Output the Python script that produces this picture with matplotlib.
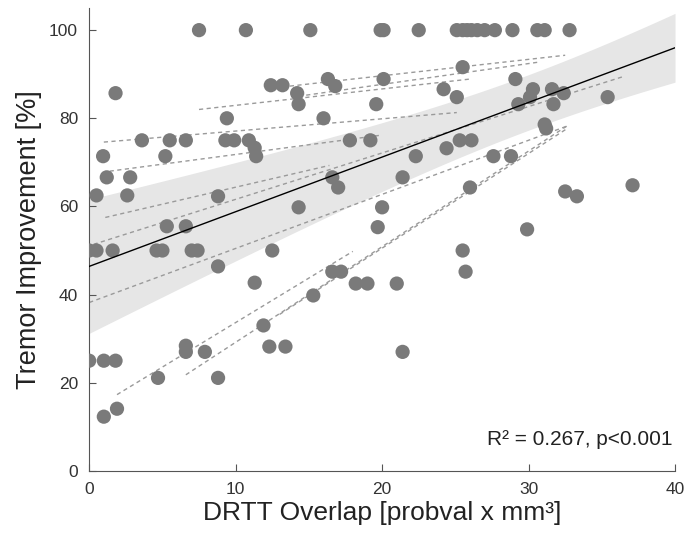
import numpy as np
import matplotlib
matplotlib.use('Agg')
import matplotlib.pyplot as plt

plt.rcParams['font.family'] = ['Liberation Sans', 'DejaVu Sans']

# patient points: DRTT overlap vs tremor improvement
overlap = [
    7.5, 10.7, 15.1, 19.9, 20.1, 22.5, 25.1, 25.5, 25.8, 26.1, 26.5, 27.0,
    27.7, 28.9, 30.6, 31.1, 32.8,
    1.8, 12.4, 13.2, 14.2, 14.3, 16.3, 16.8, 16.0, 9.4, 20.1, 19.6, 25.5,
    24.2, 25.1, 29.1, 30.3, 30.1, 29.3, 31.6, 32.4, 31.7, 35.4, 31.1, 31.2,
    3.6, 5.5, 6.6, 9.3, 9.9, 10.9, 11.3, 11.4, 0.95, 5.2,
    1.2, 2.8, 0.5, 2.6,
    17.8, 19.2, 22.3, 24.4, 25.3, 26.1, 27.6, 28.8,
    16.6, 17.0, 21.4, 26.0, 8.8,
    14.3, 20.0, 19.7, 29.9, 32.5, 33.3, 37.1, 5.3, 6.6,
    0.0, 0.5, 1.6, 4.6, 5.0, 7.0, 7.4, 12.5, 25.5,
    8.8, 11.3, 16.6, 17.2, 25.7, 15.3, 18.2, 19.0, 21.0,
    11.9, 12.3, 13.4, 6.6, 6.6, 7.9, 21.4, 4.7, 8.8,
    0.0, 1.0, 1.8, 1.0, 1.9,
]
improvement = [
    100, 100, 100, 100, 100, 100, 100, 100, 100, 100, 100, 100,
    100, 100, 100, 100, 100,
    85.7, 87.5, 87.5, 85.7, 83.2, 88.9, 87.3, 80.0, 80.0, 88.9, 83.2, 91.6,
    86.6, 84.8, 88.9, 86.6, 84.8, 83.2, 86.6, 85.7, 83.2, 84.8, 78.6, 77.7,
    75, 75, 75, 75, 75, 75, 73.3, 71.4, 71.4, 71.4,
    66.6, 66.6, 62.5, 62.5,
    75, 75, 71.4, 73.2, 75, 75, 71.4, 71.4,
    66.6, 64.3, 66.6, 64.3, 62.3,
    59.8, 59.8, 55.3, 54.8, 63.4, 62.3, 64.8, 55.5, 55.5,
    50, 50, 50, 50, 50, 50, 50, 50, 50,
    46.4, 42.7, 45.2, 45.2, 45.2, 39.8, 42.5, 42.5, 42.5,
    33.0, 28.2, 28.2, 28.4, 27.0, 27.0, 27.0, 21.1, 21.1,
    25, 25, 25, 12.3, 14.1,
]

# per-patient dashed fits: start x, start y, end x, end y
seg_x0 = [13.7, 14.3, 7.5, 1.0, 1.4, 1.1, 0.3, 0.0, 1.9, 6.6, 13.0]
seg_y0 = [87.3, 85.0, 82.0, 74.6, 68.0, 57.5, 51.4, 38.2, 17.3, 21.8, 35.5]
seg_x1 = [32.5, 30.6, 26.0, 25.1, 20.0, 16.4, 36.5, 32.6, 18.0, 32.6, 32.6]
seg_y1 = [94.3, 92.7, 88.9, 81.3, 76.2, 69.3, 89.5, 78.2, 49.8, 78.2, 77.6]

# group fit
fit_intercept = 46.4
fit_slope = 1.24
ci_center = 30.0   # x where the confidence band is narrowest
ci_min = 6.3       # half width there
ci_at0 = 15.2      # half width at x = 0

xs = np.linspace(0, 40, 200)
fit = fit_intercept + fit_slope * xs
curv = (ci_at0**2 - ci_min**2) / ci_center**2
half = np.sqrt(ci_min**2 + curv * (xs - ci_center)**2)

fig = plt.figure(figsize=(6.86, 5.40), dpi=100)
ax = fig.add_axes([0.130, 0.128, 0.854, 0.857])

ax.fill_between(xs, fit - half, fit + half, color='#e6e6e6', lw=0, zorder=1)
for a, b, c, d in zip(seg_x0, seg_y0, seg_x1, seg_y1):
    ax.plot([a, c], [b, d], color='#9a9a9a', lw=1, ls=(0, (3, 2.5)), zorder=2)
ax.scatter(overlap, improvement, s=105, color='#7a7a7a', edgecolors='none', zorder=3)
ax.plot(xs, fit, color='black', lw=1, zorder=4)

ax.text(39.8, 7.2, 'R² = 0.267, p<0.001', ha='right', va='center',
        fontsize=15, color='#222222')

ax.set_xlim(0, 40)
ax.set_ylim(0, 105)
ax.set_xticks([0, 10, 20, 30, 40])
ax.set_yticks([0, 20, 40, 60, 80, 100])
for side in ['top', 'right']:
    ax.spines[side].set_visible(False)
for side in ['left', 'bottom']:
    ax.spines[side].set_color('#555555')
ax.tick_params(direction='in', length=5, colors='#555555', labelsize=12.5,
               labelcolor='#333333', pad=8)
ax.set_xlabel('DRTT Overlap [probval x mm³]', fontsize=19, color='#222222', labelpad=3)
ax.set_ylabel('Tremor Improvement [%]', fontsize=19.5, color='#222222', labelpad=5)

fig.savefig('out.png', dpi=100)
